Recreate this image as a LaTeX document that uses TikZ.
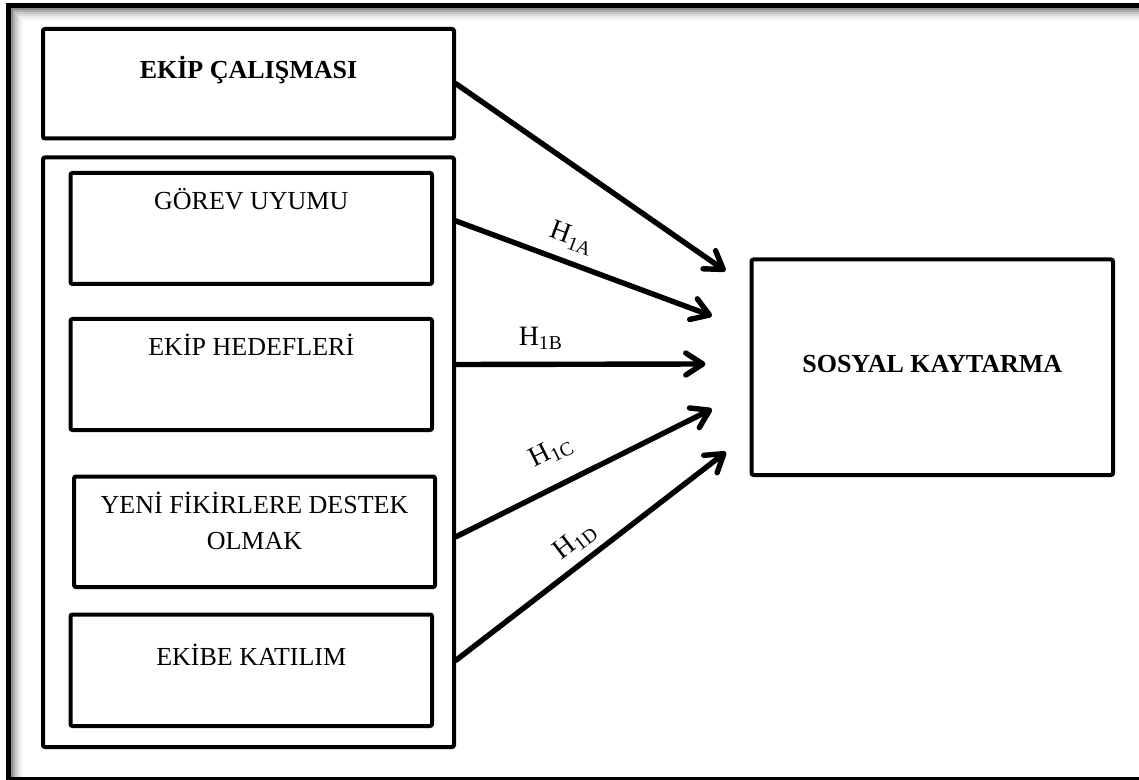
\documentclass[tikz,border=0pt]{standalone}
\usepackage{fontspec}
\setmainfont{Liberation Serif}
\usetikzlibrary{arrows.meta,positioning,calc}

\begin{document}
\begin{tikzpicture}[x=0.5pt,y=-0.5pt,
    box/.style={draw,line width=2pt,rounded corners=1pt,inner ysep=0pt,align=center,
      font=\fontsize{13}{18}\selectfont},
    hyp/.style={line width=2.7pt,line cap=round,
      -{Straight Barb[length=8.5pt,width=11pt,line cap=round,line join=round]}},
    hlbl/.style={sloped,anchor=south,inner sep=0pt,font=\fontsize{14}{16}\selectfont}]
  \useasboundingbox (0,0) rectangle (1139,780);

  % outer frame, shadow on the inside
  \foreach \k/\g in {0/45,1/32,2/22,3/14,4/8,5/4} {
    \draw[black!\g,line width=1pt] ({11.5+2*\k},780) |- (1139,{9.3+2*\k});
  }
  \draw[line width=2.5pt] (8.5,5.8) rectangle (1150,779.5);

  % left side
  \node[box,minimum width=205.5pt,text height=25pt,text depth=29.75pt] (ekip) at (248.5,83.75) {\bfseries EKİP ÇALIŞMASI};
  \node[box,minimum width=205.5pt,minimum height=294.75pt] (group) at (248.5,452.25) {};
  \node[box,minimum width=180.75pt,text height=18.5pt,text depth=37pt] (gorev) at (251.25,228.5) {GÖREV UYUMU};
  \node[box,minimum width=180.75pt,text height=18.5pt,text depth=37pt] (hedef) at (251.25,374.5) {EKİP HEDEFLERİ};
  \node[box,minimum width=180.5pt,text height=36.25pt,text depth=19pt] (yeni) at (254.5,531.75) {YENİ FİKİRLERE DESTEK\\OLMAK};
  \node[box,minimum width=180.75pt,text height=25.25pt,text depth=30.5pt] (ekibe) at (251.25,670.25) {EKİBE KATILIM};

  % right side
  \node[box,minimum width=180.75pt,text height=56.5pt,text depth=51.25pt] (sosyal) at (932.25,367.25) {\bfseries SOSYAL KAYTARMA};

  % arrow ends
  \coordinate[yshift=3.75pt] (sA) at (group.east |- gorev.east);
  \coordinate[yshift=5pt] (sB) at (group.east |- hedef.east);
  \coordinate[yshift=-2.5pt] (sC) at (group.east |- yeni.east);
  \coordinate[yshift=5pt] (sD) at (group.east |- ekibe.east);
  \coordinate (eE) at (725.5,271);
  \coordinate (eA) at (712,316);
  \coordinate (eB) at (705.5,364);
  \coordinate (eC) at (712,409);
  \coordinate (eD) at (726,452);

  % hypotheses
  \draw[hyp] (ekip.east) -- (eE);
  \draw[hyp] (sA) -- node[hlbl,pos=0.42,outer sep=6.4pt] (hA) {H\textsubscript{1A}} (eA);
  \draw[hyp] (sB) -- node[hlbl,pos=0.34,outer sep=7.4pt] (hB) {H\textsubscript{1B}} (eB);
  \draw[hyp] (sC) -- node[hlbl,pos=0.43,outer sep=11pt] (hC) {H\textsubscript{1C}} (eC);
  \draw[hyp] (sD) -- node[hlbl,pos=0.49,outer sep=5pt] (hD) {H\textsubscript{1D}} (eD);
\end{tikzpicture}
\end{document}
